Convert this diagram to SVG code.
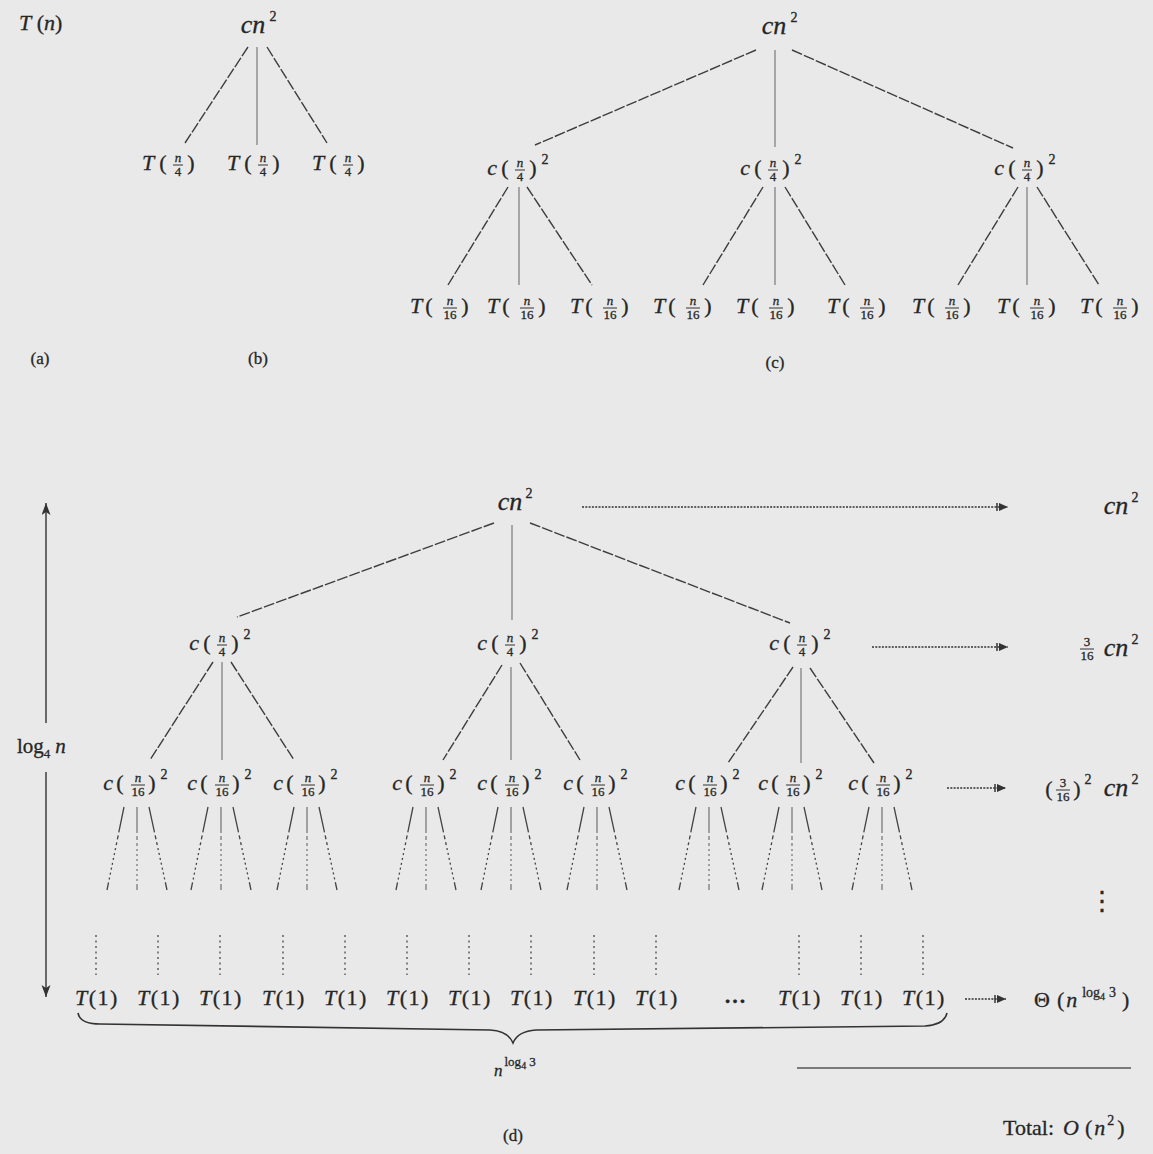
<svg xmlns="http://www.w3.org/2000/svg" width="1153" height="1154" viewBox="0 0 1153 1154">
<defs>
<style>
text{font-family:"Liberation Serif","Times New Roman",serif;fill:#262626;stroke:#262626;stroke-width:0.3;text-anchor:middle}
.i{font-style:italic}
.st{text-anchor:start}
.n{font-size:22px}
.b{font-size:26px}
.s{font-size:13px}
.sp{font-size:14px}
.lb{font-size:17px}
.t1{font-size:22px;letter-spacing:1.5px}
.e{stroke:#3d3d3d;stroke-width:1.4;stroke-dasharray:11 2;fill:none}
.v{stroke:#707070;stroke-width:1.1;fill:none}
.fb{stroke:#333;stroke-width:1}
.fan{stroke:#444;stroke-width:1.3;stroke-dasharray:26 3 4 3 3 3 2 3 2 3 2 3 2 3 2 3 2 3 2 3;fill:none}
.fanv{stroke:#666;stroke-width:1.1;stroke-dasharray:26 3 4 3 3 3 2 3 2 3 2 3 2 3 2 3 2 3 2 3;fill:none}
.col{stroke:#555;stroke-width:1.4;stroke-dasharray:2 3.5}
.arr{stroke:#333;stroke-width:1.6;stroke-dasharray:2 1.3}
.ax{stroke:#333;stroke-width:1.4}
</style>
<marker id="ah" markerWidth="14" markerHeight="10" refX="13" refY="5" orient="auto" markerUnits="userSpaceOnUse">
<line x1="2" y1="1" x2="2" y2="9" stroke="#333" stroke-width="1.5"/>
<path d="M4,1 L13,5 L4,9 z" fill="#333"/>
</marker>
<marker id="va" markerWidth="12" markerHeight="10" refX="12" refY="4.5" orient="auto" markerUnits="userSpaceOnUse">
<path d="M0,0 L12,4.5 L0,9 L3,4.5 z" fill="#333"/>
</marker>
</defs>
<rect width="1153" height="1154" fill="#e9e9e9"/>

<g id="connectors">
<!-- (b) -->
<path class="e" d="M248 47 L185 143"/>
<path class="v" d="M257 47 L257 145"/>
<path class="e" d="M267 47 L327 143"/>
<!-- (c) -->
<path class="e" d="M756 50 L535 145"/>
<path class="v" d="M775 50 L775 147"/>
<path class="e" d="M792 50 L1013 148"/>
<path class="e" d="M508 187 L448 285"/>
<path class="v" d="M519 187 L519 285"/>
<path class="e" d="M527 187 L592 285"/>
<path class="e" d="M763 187 L703 285"/>
<path class="v" d="M775 187 L775 285"/>
<path class="e" d="M785 187 L845 285"/>
<path class="e" d="M1018 187 L958 285"/>
<path class="v" d="M1027 187 L1027 285"/>
<path class="e" d="M1037 187 L1099 285"/>
<!-- (d) -->
<path class="e" d="M494 523 L237 617"/>
<path class="v" d="M512 525 L512 620"/>
<path class="e" d="M530 523 L790 623"/>
<path class="e" d="M213 662 L150 760"/>
<path class="v" d="M222 662 L222 760"/>
<path class="e" d="M231 662 L294 760"/>
<path class="e" d="M502 665 L443 760"/>
<path class="v" d="M511 667 L511 760"/>
<path class="e" d="M520 663 L580 760"/>
<path class="e" d="M793 667 L728 763"/>
<path class="v" d="M801 668 L801 763"/>
<path class="e" d="M810 668 L874 763"/>
<!-- fans -->
<path class="fan" d="M124 807 L107 890 M149 807 L167 890 M208 807 L191 890 M233 807 L251 890 M294 807 L277 890 M319 807 L337 890 M413 807 L396 890 M438 807 L456 890 M498 807 L481 890 M523 807 L541 890 M584 807 L567 890 M609 807 L627 890 M696 807 L679 890 M721 807 L739 890 M779 807 L762 890 M804 807 L822 890 M869 807 L852 890 M894 807 L912 890"/>
<path class="fanv" d="M137 807 L137 890 M221 807 L221 890 M307 807 L307 890 M426 807 L426 890 M511 807 L511 890 M597 807 L597 890 M709 807 L709 890 M792 807 L792 890 M882 807 L882 890"/>
<!-- dotted columns -->
<path class="col" d="M96 935 L96 975 M158 935 L158 975 M220 935 L220 975 M283 935 L283 975 M345 935 L345 975 M407 935 L407 975 M469 935 L469 975 M531 935 L531 975 M594 935 L594 975 M656 935 L656 975 M799 935 L799 975 M861 935 L861 975 M923 935 L923 975"/>
<!-- level arrows -->
<line class="arr" x1="582" y1="507" x2="1008" y2="507" marker-end="url(#ah)"/>
<line class="arr" x1="872" y1="647" x2="1008" y2="647" marker-end="url(#ah)"/>
<line class="arr" x1="947" y1="788" x2="1006" y2="788" marker-end="url(#ah)"/>
<line class="arr" x1="965" y1="999" x2="1006" y2="999" marker-end="url(#ah)"/>
<!-- height arrow -->
<line class="ax" x1="46" y1="723" x2="46" y2="503" marker-end="url(#va)"/>
<line class="ax" x1="46" y1="772" x2="46" y2="997" marker-end="url(#va)"/>
<!-- brace -->
<path d="M78 1013 Q80 1024 100 1024 L490 1030 Q508 1031 513 1043 Q518 1031 536 1030 L925 1026 Q944 1025 947 1013" fill="none" stroke="#333" stroke-width="1.6"/>
<!-- total rule -->
<line x1="797" y1="1068" x2="1131" y2="1068" stroke="#555" stroke-width="1.5"/>
</g>

<!-- (a) -->
<g id="a-root"><text class="st n" x="19" y="30"><tspan class="i">T</tspan> (<tspan class="i">n</tspan>)</text></g>
<g id="label-a"><text class="lb" x="40" y="364">(a)</text></g>

<!-- (b) -->
<g id="b-root" transform="translate(253,33)"><text class="i b">cn</text><text class="sp" x="20" y="-12">2</text></g>
<g id="b-1" transform="translate(178,170)"><text class="i n" x="-30">T</text><text class="n" x="-15">(</text><text class="i s" y="-8">n</text><line class="fb" x1="-5" y1="-5" x2="5" y2="-5"/><text class="s" y="6">4</text><text class="n" x="13">)</text></g>
<g id="b-2" transform="translate(263,170)"><text class="i n" x="-30">T</text><text class="n" x="-15">(</text><text class="i s" y="-8">n</text><line class="fb" x1="-5" y1="-5" x2="5" y2="-5"/><text class="s" y="6">4</text><text class="n" x="13">)</text></g>
<g id="b-3" transform="translate(348,170)"><text class="i n" x="-30">T</text><text class="n" x="-15">(</text><text class="i s" y="-8">n</text><line class="fb" x1="-5" y1="-5" x2="5" y2="-5"/><text class="s" y="6">4</text><text class="n" x="13">)</text></g>
<g id="label-b"><text class="lb" x="258" y="364">(b)</text></g>

<!-- (c) -->
<g id="c-root" transform="translate(774,34)"><text class="i b">cn</text><text class="sp" x="20" y="-12">2</text></g>
<g id="c-1" transform="translate(520,175)"><text class="i n" x="-28">c</text><text class="n" x="-15">(</text><text class="i s" y="-8">n</text><line class="fb" x1="-5" y1="-5" x2="5" y2="-5"/><text class="s" y="6">4</text><text class="n" x="13">)</text><text class="sp" x="25" y="-11">2</text></g>
<g id="c-2" transform="translate(773,175)"><text class="i n" x="-28">c</text><text class="n" x="-15">(</text><text class="i s" y="-8">n</text><line class="fb" x1="-5" y1="-5" x2="5" y2="-5"/><text class="s" y="6">4</text><text class="n" x="13">)</text><text class="sp" x="25" y="-11">2</text></g>
<g id="c-3" transform="translate(1027,175)"><text class="i n" x="-28">c</text><text class="n" x="-15">(</text><text class="i s" y="-8">n</text><line class="fb" x1="-5" y1="-5" x2="5" y2="-5"/><text class="s" y="6">4</text><text class="n" x="13">)</text><text class="sp" x="25" y="-11">2</text></g>
<g id="c-l1" transform="translate(450,313)"><text class="i n" x="-34">T</text><text class="n" x="-21">(</text><text class="i s" y="-8">n</text><line class="fb" x1="-7" y1="-5" x2="7" y2="-5"/><text class="s" y="6">16</text><text class="n" x="15">)</text></g>
<g id="c-l2" transform="translate(527,313)"><text class="i n" x="-34">T</text><text class="n" x="-21">(</text><text class="i s" y="-8">n</text><line class="fb" x1="-7" y1="-5" x2="7" y2="-5"/><text class="s" y="6">16</text><text class="n" x="15">)</text></g>
<g id="c-l3" transform="translate(610,313)"><text class="i n" x="-34">T</text><text class="n" x="-21">(</text><text class="i s" y="-8">n</text><line class="fb" x1="-7" y1="-5" x2="7" y2="-5"/><text class="s" y="6">16</text><text class="n" x="15">)</text></g>
<g id="c-l4" transform="translate(693,313)"><text class="i n" x="-34">T</text><text class="n" x="-21">(</text><text class="i s" y="-8">n</text><line class="fb" x1="-7" y1="-5" x2="7" y2="-5"/><text class="s" y="6">16</text><text class="n" x="15">)</text></g>
<g id="c-l5" transform="translate(776,313)"><text class="i n" x="-34">T</text><text class="n" x="-21">(</text><text class="i s" y="-8">n</text><line class="fb" x1="-7" y1="-5" x2="7" y2="-5"/><text class="s" y="6">16</text><text class="n" x="15">)</text></g>
<g id="c-l6" transform="translate(867,313)"><text class="i n" x="-34">T</text><text class="n" x="-21">(</text><text class="i s" y="-8">n</text><line class="fb" x1="-7" y1="-5" x2="7" y2="-5"/><text class="s" y="6">16</text><text class="n" x="15">)</text></g>
<g id="c-l7" transform="translate(952,313)"><text class="i n" x="-34">T</text><text class="n" x="-21">(</text><text class="i s" y="-8">n</text><line class="fb" x1="-7" y1="-5" x2="7" y2="-5"/><text class="s" y="6">16</text><text class="n" x="15">)</text></g>
<g id="c-l8" transform="translate(1037,313)"><text class="i n" x="-34">T</text><text class="n" x="-21">(</text><text class="i s" y="-8">n</text><line class="fb" x1="-7" y1="-5" x2="7" y2="-5"/><text class="s" y="6">16</text><text class="n" x="15">)</text></g>
<g id="c-l9" transform="translate(1120,313)"><text class="i n" x="-34">T</text><text class="n" x="-21">(</text><text class="i s" y="-8">n</text><line class="fb" x1="-7" y1="-5" x2="7" y2="-5"/><text class="s" y="6">16</text><text class="n" x="15">)</text></g>
<g id="label-c"><text class="lb" x="775" y="368">(c)</text></g>

<!-- (d) -->
<g id="d-root" transform="translate(510,510)"><text class="i b">cn</text><text class="sp" x="19" y="-12">2</text></g>
<g id="d-1" transform="translate(222,650)"><text class="i n" x="-28">c</text><text class="n" x="-15">(</text><text class="i s" y="-8">n</text><line class="fb" x1="-5" y1="-5" x2="5" y2="-5"/><text class="s" y="6">4</text><text class="n" x="13">)</text><text class="sp" x="25" y="-11">2</text></g>
<g id="d-2" transform="translate(510,650)"><text class="i n" x="-28">c</text><text class="n" x="-15">(</text><text class="i s" y="-8">n</text><line class="fb" x1="-5" y1="-5" x2="5" y2="-5"/><text class="s" y="6">4</text><text class="n" x="13">)</text><text class="sp" x="25" y="-11">2</text></g>
<g id="d-3" transform="translate(802,650)"><text class="i n" x="-28">c</text><text class="n" x="-15">(</text><text class="i s" y="-8">n</text><line class="fb" x1="-5" y1="-5" x2="5" y2="-5"/><text class="s" y="6">4</text><text class="n" x="13">)</text><text class="sp" x="25" y="-11">2</text></g>
<g id="d-11" transform="translate(138,790)"><text class="i n" x="-30">c</text><text class="n" x="-18">(</text><text class="i s" y="-8">n</text><line class="fb" x1="-7" y1="-5" x2="7" y2="-5"/><text class="s" y="6">16</text><text class="n" x="14">)</text><text class="sp" x="26" y="-11">2</text></g>
<g id="d-12" transform="translate(222,790)"><text class="i n" x="-30">c</text><text class="n" x="-18">(</text><text class="i s" y="-8">n</text><line class="fb" x1="-7" y1="-5" x2="7" y2="-5"/><text class="s" y="6">16</text><text class="n" x="14">)</text><text class="sp" x="26" y="-11">2</text></g>
<g id="d-13" transform="translate(308,790)"><text class="i n" x="-30">c</text><text class="n" x="-18">(</text><text class="i s" y="-8">n</text><line class="fb" x1="-7" y1="-5" x2="7" y2="-5"/><text class="s" y="6">16</text><text class="n" x="14">)</text><text class="sp" x="26" y="-11">2</text></g>
<g id="d-21" transform="translate(427,790)"><text class="i n" x="-30">c</text><text class="n" x="-18">(</text><text class="i s" y="-8">n</text><line class="fb" x1="-7" y1="-5" x2="7" y2="-5"/><text class="s" y="6">16</text><text class="n" x="14">)</text><text class="sp" x="26" y="-11">2</text></g>
<g id="d-22" transform="translate(512,790)"><text class="i n" x="-30">c</text><text class="n" x="-18">(</text><text class="i s" y="-8">n</text><line class="fb" x1="-7" y1="-5" x2="7" y2="-5"/><text class="s" y="6">16</text><text class="n" x="14">)</text><text class="sp" x="26" y="-11">2</text></g>
<g id="d-23" transform="translate(598,790)"><text class="i n" x="-30">c</text><text class="n" x="-18">(</text><text class="i s" y="-8">n</text><line class="fb" x1="-7" y1="-5" x2="7" y2="-5"/><text class="s" y="6">16</text><text class="n" x="14">)</text><text class="sp" x="26" y="-11">2</text></g>
<g id="d-31" transform="translate(710,790)"><text class="i n" x="-30">c</text><text class="n" x="-18">(</text><text class="i s" y="-8">n</text><line class="fb" x1="-7" y1="-5" x2="7" y2="-5"/><text class="s" y="6">16</text><text class="n" x="14">)</text><text class="sp" x="26" y="-11">2</text></g>
<g id="d-32" transform="translate(793,790)"><text class="i n" x="-30">c</text><text class="n" x="-18">(</text><text class="i s" y="-8">n</text><line class="fb" x1="-7" y1="-5" x2="7" y2="-5"/><text class="s" y="6">16</text><text class="n" x="14">)</text><text class="sp" x="26" y="-11">2</text></g>
<g id="d-33" transform="translate(883,790)"><text class="i n" x="-30">c</text><text class="n" x="-18">(</text><text class="i s" y="-8">n</text><line class="fb" x1="-7" y1="-5" x2="7" y2="-5"/><text class="s" y="6">16</text><text class="n" x="14">)</text><text class="sp" x="26" y="-11">2</text></g>

<g id="d-leaves">
<text class="t1" x="97" y="1005"><tspan class="i">T</tspan>(1)</text>
<text class="t1" x="159" y="1005"><tspan class="i">T</tspan>(1)</text>
<text class="t1" x="221" y="1005"><tspan class="i">T</tspan>(1)</text>
<text class="t1" x="284" y="1005"><tspan class="i">T</tspan>(1)</text>
<text class="t1" x="346" y="1005"><tspan class="i">T</tspan>(1)</text>
<text class="t1" x="408" y="1005"><tspan class="i">T</tspan>(1)</text>
<text class="t1" x="470" y="1005"><tspan class="i">T</tspan>(1)</text>
<text class="t1" x="532" y="1005"><tspan class="i">T</tspan>(1)</text>
<text class="t1" x="595" y="1005"><tspan class="i">T</tspan>(1)</text>
<text class="t1" x="657" y="1005"><tspan class="i">T</tspan>(1)</text>
<text class="n" x="735" y="1003" style="font-weight:bold">…</text>
<text class="t1" x="800" y="1005"><tspan class="i">T</tspan>(1)</text>
<text class="t1" x="862" y="1005"><tspan class="i">T</tspan>(1)</text>
<text class="t1" x="924" y="1005"><tspan class="i">T</tspan>(1)</text>
</g>

<g id="d-height"><text class="st" x="17" y="753" style="font-size:21px">log<tspan class="s" dy="5">4</tspan><tspan class="i" dx="5" dy="-5">n</tspan></text></g>
<g id="d-count"><text class="st i" x="494" y="1076" style="font-size:17px">n<tspan class="s" style="font-style:normal" dx="2" dy="-10">log</tspan><tspan style="font-size:10px;font-style:normal" dy="3">4</tspan><tspan class="s" style="font-style:normal" dx="3" dy="-3">3</tspan></text></g>

<g id="sum-1" transform="translate(1116,514)"><text class="i b">cn</text><text class="sp" x="19" y="-12">2</text></g>
<g id="sum-2"><text class="s" x="1087" y="646">3</text><line class="fb" x1="1080" y1="649" x2="1094" y2="649"/><text class="s" x="1087" y="660">16</text><g transform="translate(1116,656)"><text class="i b">cn</text><text class="sp" x="19" y="-12">2</text></g></g>
<g id="sum-3"><text class="n" x="1049" y="796">(</text><text class="s" x="1063" y="787">3</text><line class="fb" x1="1056" y1="790" x2="1070" y2="790"/><text class="s" x="1063" y="801">16</text><text class="n" x="1077" y="796">)</text><text class="sp" x="1088" y="784">2</text><g transform="translate(1116,796)"><text class="i b">cn</text><text class="sp" x="19" y="-12">2</text></g></g>
<g id="sum-dots"><text x="1102" y="910" style="font-family:'DejaVu Serif',serif;font-size:26px">⋮</text></g>
<g id="sum-4"><text class="st" x="1034" y="1007" style="font-size:22px">Θ<tspan dx="7">(</tspan><tspan class="i" dx="2">n</tspan><tspan class="sp" dx="5" dy="-10">log</tspan><tspan style="font-size:10px" dy="3">4</tspan><tspan class="sp" dx="4" dy="-3">3</tspan><tspan dx="6" dy="10">)</tspan></text></g>
<g id="total"><text class="st" x="1003" y="1135" style="font-size:22px">Total:<tspan class="i" dx="9">O</tspan><tspan dx="6">(</tspan><tspan class="i" dx="2">n</tspan><tspan class="sp" dx="2" dy="-10">2</tspan><tspan dx="3" dy="10">)</tspan></text></g>
<g id="label-d"><text class="lb" x="513" y="1141">(d)</text></g>
</svg>
